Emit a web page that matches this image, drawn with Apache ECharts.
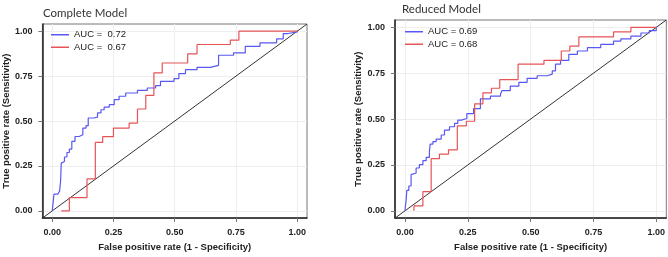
<!DOCTYPE html>
<html>
<head>
<meta charset="utf-8">
<script src="https://cdn.jsdelivr.net/npm/echarts@6/dist/echarts.min.js"></script>
<style>
  html, body { margin: 0; padding: 0; background: #fff; }
  #chart { width: 668px; height: 257px; }
</style>
</head>
<body>
<div id="chart"></div>
<script>
// tick positions shared by both panels
const tickValues = [0, 0.25, 0.5, 0.75, 1]

// Complete model: step corners [fpr, tpr]
const completeBlue = [
  [0, 0], [0.003, 0.006], [0.004, 0.05], [0.007, 0.093], [0.023, 0.102], [0.03, 0.11],
  [0.034, 0.164], [0.037, 0.266], [0.045, 0.275], [0.05, 0.30], [0.06, 0.325],
  [0.07, 0.344], [0.08, 0.387], [0.093, 0.414], [0.11, 0.424], [0.125, 0.461],
  [0.138, 0.474], [0.147, 0.517], [0.169, 0.522], [0.185, 0.545], [0.199, 0.563],
  [0.212, 0.578], [0.233, 0.591], [0.253, 0.619], [0.273, 0.638], [0.30, 0.656],
  [0.348, 0.671], [0.388, 0.684], [0.422, 0.697], [0.442, 0.721], [0.497, 0.736],
  [0.517, 0.764], [0.544, 0.786], [0.591, 0.799], [0.645, 0.810], [0.679, 0.866],
  [0.74, 0.879], [0.788, 0.916], [0.848, 0.935], [0.916, 0.957], [0.943, 0.987],
  [0.963, 0.996], [1, 1]
]
const completeRed = [
  [0.037, 0], [0.070, 0.074], [0.142, 0.178], [0.176, 0.381], [0.206, 0.413],
  [0.25, 0.461], [0.314, 0.489], [0.348, 0.567], [0.382, 0.643], [0.415, 0.768],
  [0.449, 0.823], [0.553, 0.874], [0.591, 0.926], [0.727, 0.95], [0.762, 1.0], [1, 1]
]

// Reduced model
const reducedBlue = [
  [0, 0], [0.001, 0.02], [0.004, 0.054], [0.007, 0.111], [0.015, 0.135], [0.024, 0.197],
  [0.031, 0.206], [0.044, 0.233], [0.057, 0.251], [0.071, 0.273], [0.084, 0.291],
  [0.097, 0.323], [0.1, 0.363], [0.111, 0.377], [0.124, 0.391], [0.144, 0.413],
  [0.157, 0.44], [0.177, 0.458], [0.197, 0.476], [0.21, 0.494], [0.224, 0.503],
  [0.246, 0.53], [0.273, 0.557], [0.3, 0.61], [0.34, 0.625], [0.38, 0.637],
  [0.386, 0.655], [0.419, 0.679], [0.453, 0.7], [0.486, 0.722], [0.526, 0.736],
  [0.566, 0.745], [0.586, 0.763], [0.599, 0.799], [0.619, 0.82], [0.652, 0.853],
  [0.686, 0.871], [0.726, 0.889], [0.779, 0.907], [0.83, 0.925], [0.859, 0.937],
  [0.899, 0.952], [0.939, 0.969], [0.972, 0.982], [1, 1]
]
const reducedRed = [
  [0.035, 0], [0.036, 0.027], [0.071, 0.104], [0.104, 0.284], [0.137, 0.309],
  [0.173, 0.332], [0.208, 0.463], [0.244, 0.488], [0.277, 0.583], [0.310, 0.643],
  [0.344, 0.668], [0.377, 0.715], [0.450, 0.799], [0.553, 0.82], [0.622, 0.871],
  [0.656, 0.898], [0.692, 0.948], [0.83, 0.975], [0.899, 1.0], [1, 1]
]

const panelTitles = ['Complete Model', 'Reduced Model']
const aucLabels = [['AUC =  0.72', 'AUC =  0.67'], ['AUC = 0.69', 'AUC = 0.68']]
const diagonal = [[-0.04, -0.04], [1.04, 1.04]]

const colors = {
  blue: '#5858f2',
  red: '#e65458',
  text: '#222',
  tick: '#777',
  grid: '#eeeeee'
}

const chart = echarts.init(document.getElementById('chart'))

const makeX = (gridIndex) => ({
  type: 'value',
  gridIndex,
  min: -0.04,
  max: 1.04,
  name: 'False positive rate (1 - Specificity)',
  nameLocation: 'middle',
  nameGap: 22,
  nameTextStyle: { fontFamily: 'Liberation Sans', fontWeight: 'bold', fontSize: 9.5, color: colors.text },
  axisLine: { show: true, onZero: false, lineStyle: { color: '#222', width: 1.5 } },
  axisTick: { show: true, length: 4, customValues: tickValues, lineStyle: { color: colors.tick } },
  axisLabel: {
    customValues: tickValues,
    margin: 10,
    fontFamily: 'Liberation Sans', fontWeight: 'bold', fontSize: 9, color: colors.text,
    formatter: (v) => v.toFixed(2)
  },
  splitLine: { show: true, lineStyle: { color: colors.grid, width: 1 } }
})

const makeY = (gridIndex) => ({
  type: 'value',
  gridIndex,
  min: -0.04,
  max: 1.04,
  name: 'True positive rate (Sensitivity)',
  nameLocation: 'middle',
  nameGap: 31,
  nameTextStyle: { fontFamily: 'Liberation Sans', fontWeight: 'bold', fontSize: 9.5, color: colors.text },
  axisLine: { show: true, onZero: false, lineStyle: { color: '#222', width: 1.5 } },
  axisTick: { show: true, length: 4, customValues: tickValues, lineStyle: { color: colors.tick } },
  axisLabel: {
    customValues: tickValues,
    margin: 10,
    fontFamily: 'Liberation Sans', fontWeight: 'bold', fontSize: 9, color: colors.text,
    formatter: (v) => v.toFixed(2)
  },
  splitLine: { show: true, lineStyle: { color: colors.grid, width: 1 } }
})

const rocSeries = (name, data, color, idx) => ({
  name,
  type: 'line',
  xAxisIndex: idx,
  yAxisIndex: idx,
  data,
  step: 'end',
  showSymbol: false,
  silent: true,
  lineStyle: { color, width: 1.2 },
  itemStyle: { color },
  z: 3
})

const diagSeries = (idx) => ({
  type: 'line',
  xAxisIndex: idx,
  yAxisIndex: idx,
  data: diagonal,
  showSymbol: false,
  silent: true,
  lineStyle: { color: '#333', width: 1 },
  z: 2
})

const legendCommon = {
  orient: 'vertical',
  icon: 'rect',
  itemWidth: 18,
  itemHeight: 1.5,
  itemGap: 1,
  padding: 0,
  textStyle: { fontFamily: 'Liberation Sans', fontSize: 9.5, color: colors.text, lineHeight: 11.5 }
}

const option = {
  backgroundColor: '#fff',
  animation: false,
  title: [
    { text: panelTitles[0], left: 38, top: 2, textStyle: { fontFamily: 'Lato', fontWeight: 'normal', fontSize: 11.5, color: '#333' } },
    { text: panelTitles[1], left: 397, top: -2, textStyle: { fontFamily: 'Lato', fontWeight: 'normal', fontSize: 11.5, color: '#333' } }
  ],
  legend: [
    Object.assign({}, legendCommon, { data: aucLabels[0], left: 51, top: 29 }),
    Object.assign({}, legendCommon, { data: aucLabels[1], left: 405, top: 26 })
  ],
  grid: [
    { left: 42, top: 24, width: 265, height: 195, show: true, borderColor: '#777', borderWidth: 1, containLabel: false },
    { left: 395, top: 20, width: 272, height: 200, show: true, borderColor: '#777', borderWidth: 1, containLabel: false }
  ],
  xAxis: [makeX(0), makeX(1)],
  yAxis: [makeY(0), makeY(1)],
  series: [
    diagSeries(0),
    rocSeries(aucLabels[0][0], completeBlue, colors.blue, 0),
    rocSeries(aucLabels[0][1], completeRed, colors.red, 0),
    diagSeries(1),
    rocSeries(aucLabels[1][0], reducedBlue, colors.blue, 1),
    rocSeries(aucLabels[1][1], reducedRed, colors.red, 1)
  ]
}

chart.setOption(option)
</script>
</body>
</html>
